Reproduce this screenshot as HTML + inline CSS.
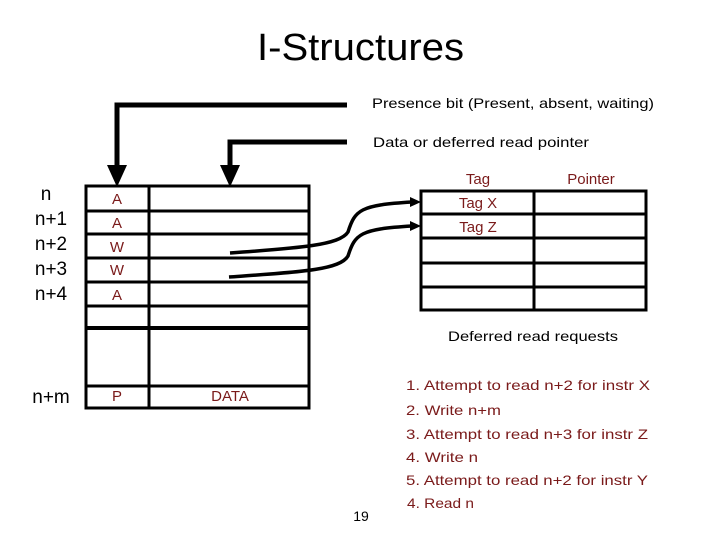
<!DOCTYPE html>
<html><head><style>
body{margin:0;width:720px;height:540px;background:#fff;overflow:hidden;font-family:"Liberation Sans",sans-serif}
</style></head><body>
<svg width="720" height="540" viewBox="0 0 720 540" xmlns="http://www.w3.org/2000/svg" font-family="Liberation Sans, sans-serif">
<text x="257" y="60" font-size="38" fill="#000" textLength="207" lengthAdjust="spacingAndGlyphs">I-Structures</text>
<text x="372" y="108" font-size="14" fill="#000" textLength="282" lengthAdjust="spacingAndGlyphs">Presence bit (Present, absent, waiting)</text>
<text x="373" y="147" font-size="14" fill="#000" textLength="216" lengthAdjust="spacingAndGlyphs">Data or deferred read pointer</text>
<g stroke="#000" stroke-width="5" fill="none">
<polyline points="347,105 117,105 117,168"/>
<polyline points="347,142 230,142 230,168"/>
</g>
<polygon points="107,165 127,165 117,187" fill="#000"/>
<polygon points="220,165 240,165 230,187" fill="#000"/>
<g stroke="#000" stroke-width="3" fill="none">
<rect x="86" y="186" width="223" height="222"/>
<line x1="149" y1="186" x2="149" y2="408"/>
<line x1="86" y1="211" x2="309" y2="211"/>
<line x1="86" y1="234" x2="309" y2="234"/>
<line x1="86" y1="258" x2="309" y2="258"/>
<line x1="86" y1="282" x2="309" y2="282"/>
<line x1="86" y1="306" x2="309" y2="306"/>
<line x1="86" y1="328" x2="309" y2="328" stroke-width="4"/>
<line x1="86" y1="386" x2="309" y2="386"/>
<rect x="421" y="191" width="225" height="119"/>
<line x1="534" y1="191" x2="534" y2="310"/>
<line x1="421" y1="214" x2="646" y2="214"/>
<line x1="421" y1="238" x2="646" y2="238"/>
<line x1="421" y1="263" x2="646" y2="263"/>
<line x1="421" y1="287" x2="646" y2="287"/>
<path d="M230,253 C300,248 340,245 348,232 C355,210 360,205 412,202" stroke-width="3.5"/>
<path d="M229,277 C300,272 340,270 348,256 C355,234 360,229 412,226" stroke-width="3.5"/>
</g>
<polygon points="410,197 421,202 410,207" fill="#000"/>
<polygon points="410,221 421,226 410,231" fill="#000"/>
<g font-size="15" fill="#7a1a1a" text-anchor="middle">
<text x="117" y="204">A</text><text x="117" y="228">A</text><text x="117" y="252">W</text>
<text x="117" y="275">W</text><text x="117" y="300">A</text><text x="117" y="401">P</text>
<text x="230" y="401">DATA</text>
<text x="478" y="184">Tag</text><text x="591" y="184">Pointer</text>
<text x="478" y="208">Tag X</text><text x="478" y="232">Tag Z</text>
</g>
<g font-size="19" fill="#000" text-anchor="middle">
<text x="46" y="200">n</text><text x="51" y="225">n+1</text><text x="51" y="250">n+2</text>
<text x="51" y="275">n+3</text><text x="51" y="300">n+4</text><text x="51" y="403">n+m</text>
</g>
<text x="448" y="341" font-size="14" fill="#000" textLength="170" lengthAdjust="spacingAndGlyphs">Deferred read requests</text>
<g font-size="14" fill="#7a1a1a" lengthAdjust="spacingAndGlyphs">
<text x="406" y="390" textLength="244" lengthAdjust="spacingAndGlyphs">1. Attempt to read n+2 for instr X</text>
<text x="406" y="415" textLength="95" lengthAdjust="spacingAndGlyphs">2. Write n+m</text>
<text x="406" y="439" textLength="242" lengthAdjust="spacingAndGlyphs">3. Attempt to read n+3 for instr Z</text>
<text x="406" y="462" textLength="72" lengthAdjust="spacingAndGlyphs">4. Write n</text>
<text x="406" y="485" textLength="242" lengthAdjust="spacingAndGlyphs">5. Attempt to read n+2 for instr Y</text>
<text x="407" y="508" textLength="67" lengthAdjust="spacingAndGlyphs">4. Read n</text>
</g>
<text x="361" y="521" font-size="14" fill="#000" text-anchor="middle">19</text>
</svg>
</body></html>
